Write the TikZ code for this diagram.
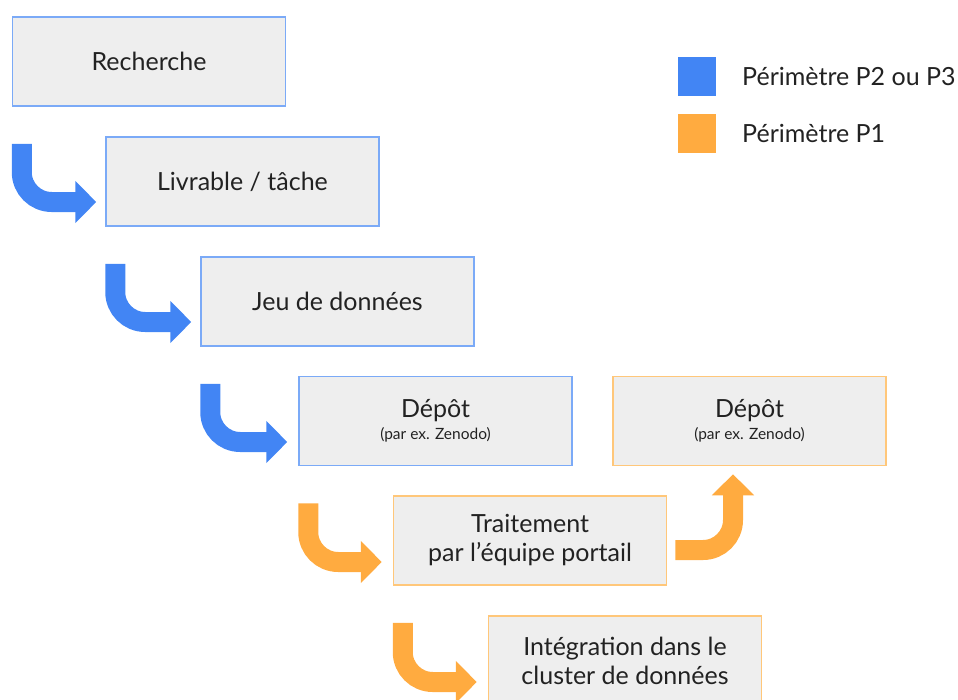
\documentclass[tikz,border=0pt]{standalone}
\usepackage{fontspec}
\setmainfont{Lato}
\usetikzlibrary{arrows.meta}
\definecolor{gblue}{HTML}{4285F4}
\definecolor{gorange}{HTML}{FFAB40}
\definecolor{bblue}{HTML}{7BAAF7}
\definecolor{borange}{HTML}{FFC77A}
\definecolor{boxfill}{HTML}{EEEEEE}
\definecolor{txt}{HTML}{222222}
\tikzset{
  stepbox/.style={rectangle, fill=boxfill, line width=1.5pt, minimum width=273pt, minimum height=89pt,
    inner sep=0pt, align=center, text=txt, font=\fontsize{25}{29}\selectfont},
  bluebox/.style={stepbox, draw=bblue},
  orangebox/.style={stepbox, draw=borange},
  bendarrow/.style={line width=20pt, rounded corners=30pt, -{Triangle[width=41pt,length=21pt]}},
  bluearrow/.style={bendarrow, draw=gblue, color=gblue},
  orangearrow/.style={bendarrow, draw=gorange, color=gorange},
  legendtext/.style={anchor=base west, text=txt, font=\fontsize{25}{29}\selectfont, inner sep=0pt}
}
\newcommand\smalltxt[1]{{\fontsize{15.5}{18}\selectfont #1}}
\begin{document}
\begin{tikzpicture}[x=1pt,y=-1pt]
\useasboundingbox (0,0) rectangle (958,699);
\node[bluebox] (rech) at (149,61.5) {Recherche};
\node[bluebox] (livr) at (242.5,181.5) {Livrable / tâche};
\node[bluebox] (jeu) at (337.5,301.5) {Jeu de données};
\node[bluebox] (depa) at (435.5,421) {Dépôt\\[-7pt]\smalltxt{(par ex. Zenodo)}};
\node[orangebox] (depb) at (749.5,421) {Dépôt\\[-7pt]\smalltxt{(par ex. Zenodo)}};
\node[orangebox] (trait) at (530,540.5) {Traitement\\par l’équipe portail};
\node[orangebox] (integ) at (625,660.5) {Intégration dans le\\cluster de données};
\draw[bluearrow] ([xshift=10pt,yshift=-37pt]rech.south west) |- ([xshift=-9pt,yshift=-20.5pt]livr.west);
\draw[bluearrow] ([xshift=10pt,yshift=-37pt]livr.south west) |- ([xshift=-9pt,yshift=-20.5pt]jeu.west);
\draw[bluearrow] ([xshift=10pt,yshift=-37pt]jeu.south west) |- ([xshift=-11pt,yshift=-21pt]depa.west);
\draw[orangearrow] ([xshift=10pt,yshift=-37pt]depa.south west) |- ([xshift=-11pt,yshift=-21.5pt]trait.west);
\draw[orangearrow] ([xshift=10pt,yshift=-37pt]trait.south west) |- ([xshift=-11pt,yshift=-21.5pt]integ.west);
\draw[orangearrow] ([xshift=8pt,yshift=-9.5pt]trait.east) -| ([xshift=-16.5pt,yshift=-8pt]depb.south);
\fill[gblue] (678,57) rectangle (716,96);
\fill[gorange] (678,114) rectangle (716,153);
\node[legendtext] (l1) at (742,85) {Périmètre P2 ou P3};
\node[legendtext] (l2) at (742,142) {Périmètre P1};
\end{tikzpicture}
\end{document}
